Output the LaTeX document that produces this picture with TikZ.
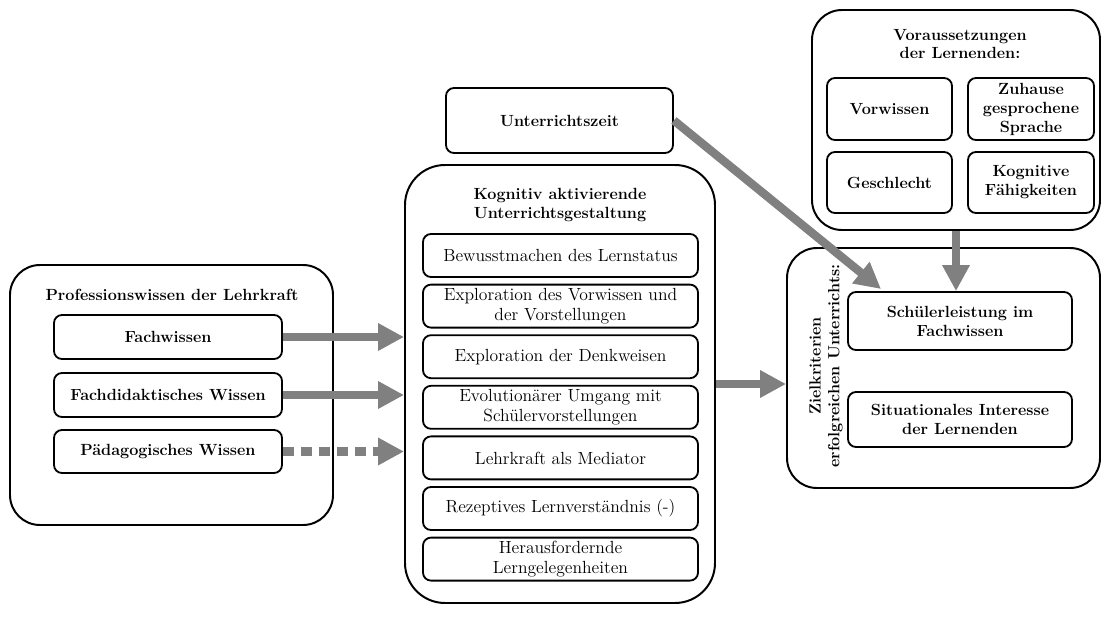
\documentclass[tikz,border=0pt]{standalone}
\usepackage{tikz}
\usetikzlibrary{arrows.meta}

\definecolor{pfeilgrau}{RGB}{128,128,128}

\tikzset{
  rahmen/.style={draw, line width=1.4pt, rounded corners=0.75cm, inner sep=0pt},
  kasten/.style={draw, line width=1.3pt, rounded corners=0.2cm, align=center, inner sep=0pt},
  fett/.style={font=\fontsize{11.5}{13.5}\selectfont\bfseries},
  wh/.style 2 args={minimum width=#1*0.025cm, minimum height=#2*0.025cm},
  titel/.style={align=center, inner sep=0pt, fett},
  pfeil/.style={draw=pfeilgrau, line width=0.21cm, -{Triangle[width=0.65cm,length=0.65cm]}},
}

\begin{document}
\begin{tikzpicture}[x=0.025cm, y=-0.025cm, every node/.style={font=\fontsize{12.5}{14}\selectfont}]
  \useasboundingbox (0,0) rectangle (1104,619);

  % Professionswissen
  \node[rahmen, wh={323}{260}] (prof) at (171.5,395) {};
  \node[titel] (proftitel) at (172,295) {Professionswissen der Lehrkraft};
  \node[kasten, wh={228}{44}, fett] (fw) at (168,337) {Fachwissen};
  \node[kasten, wh={228}{44}, fett] (fd) at (168,395) {Fachdidaktisches Wissen};
  \node[kasten, wh={228}{43}, fett] (pw) at (168,451.5) {Pädagogisches Wissen};

  % Unterricht
  \node[kasten, wh={227}{65}, fett] (uz) at (559.5,120.5) {Unterrichtszeit};
  \node[rahmen, wh={310}{438}, rounded corners=1cm] (kog) at (560,384) {};
  \node[titel] (kogtitel) at (560,205.5) {Kognitiv aktivierende\\Unterrichtsgestaltung};
  \foreach \txt [count=\i] in {Bewusstmachen des Lernstatus,
      {Exploration des Vorwissen und\\der Vorstellungen},
      Exploration der Denkweisen,
      {Evolutionärer Umgang mit\\Schülervorstellungen},
      Lehrkraft als Mediator,
      Rezeptives Lernverständnis (-),
      {Herausfordernde\\Lerngelegenheiten}}
    \node[kasten, wh={275}{43}] (k\i) at (560.5,{204.9+50.6*\i}) {\txt};

  % Voraussetzungen
  \node[rahmen, wh={288}{220}] (vor) at (956,120) {};
  \node[titel] (vortitel) at (960,44) {Voraussetzungen\\der Lernenden:};
  \node[kasten, wh={125}{62}, fett] (vw) at (889.5,109) {Vorwissen};
  \node[kasten, wh={126}{62}, fett] (zs) at (1031,109) {Zuhause\\gesprochene\\Sprache};
  \node[kasten, wh={125}{61}, fett] (gs) at (889.5,182.5) {Geschlecht};
  \node[kasten, wh={126}{61}, fett] (kf) at (1031,182.5) {Kognitive\\Fähigkeiten};

  % Zielkriterien
  \node[rahmen, wh={313}{240}] (ziel) at (943.5,368) {};
  \node[titel, rotate=90] (zieltitel) at (826,366) {Zielkriterien\\erfolgreichen Unterrichts:};
  \node[kasten, wh={224}{58}, fett] (sl) at (960,321) {Schülerleistung im\\Fachwissen};
  \node[kasten, wh={224}{55}, fett] (si) at (960,419.5) {Situationales Interesse\\der Lernenden};

  % Pfeile
  \coordinate (tip) at (881,289);
  \draw[pfeil] (fw.east) -- (fw.east -| kog.west);
  \draw[pfeil] (fd.east) -- (fd.east -| kog.west);
  \draw[pfeil, dash pattern=on 0.27cm off 0.18cm] (pw.east) -- (pw.east -| kog.west);
  \draw[pfeil] (kog.east) -- (kog.east -| ziel.west);
  \draw[pfeil] (uz.east) -- (tip);
  \draw[pfeil] (vor.south) -- (vor.south |- sl.north);
\end{tikzpicture}
\end{document}
